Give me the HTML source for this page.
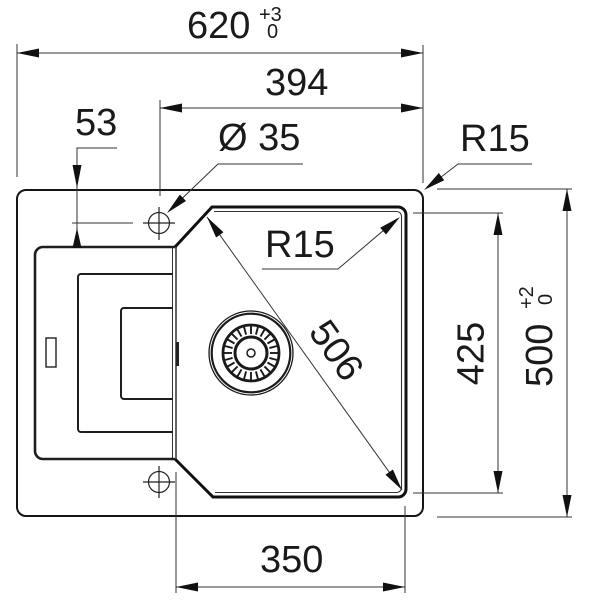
<!DOCTYPE html>
<html>
<head>
<meta charset="utf-8">
<style>
  html, body { margin:0; padding:0; background:#fff; }
  svg { display:block; }
  text { font-family: "Liberation Sans", Arial, sans-serif; fill:#1a1a1a; }
</style>
</head>
<body>
<svg width="600" height="600" viewBox="0 0 600 600" xmlns="http://www.w3.org/2000/svg">
  <rect x="0" y="0" width="600" height="600" fill="#fff"/>

  <!-- Outer sink outline -->
  <rect x="17" y="190" width="406" height="326" rx="9" ry="9" fill="none" stroke="#151515" stroke-width="2"/>

  <!-- Drainer -->
  <path d="M175,247 L43,247 A8,8 0 0 0 35,255 L35,451 A8,8 0 0 0 43,459 L175,459" fill="none" stroke="#1e1e1e" stroke-width="2.6"/>
  <line x1="172.5" y1="248" x2="172.5" y2="458" stroke="#333" stroke-width="1"/>
  <line x1="176" y1="247" x2="176" y2="459" stroke="#222" stroke-width="1.4"/>
  <path d="M173,274 L81,274 A3,3 0 0 0 78,277 L78,429 A3,3 0 0 0 81,432 L173,432" fill="none" stroke="#1e1e1e" stroke-width="2"/>
  <path d="M173,308 L124,308 A3,3 0 0 0 121,311 L121,396 A3,3 0 0 0 124,399 L173,399" fill="none" stroke="#1e1e1e" stroke-width="2"/>
  <rect x="46" y="338" width="10" height="29" fill="none" stroke="#222" stroke-width="1.4"/>
  <rect x="175.5" y="342" width="3.5" height="24" fill="#222"/>

  <!-- Bowl -->
  <path d="M175,247 L212,207 L398,207 A8,8 0 0 1 406,215 L406,489 A8,8 0 0 1 398,497 L213,497 L175,459" fill="none" stroke="#111" stroke-width="3"/>
  <path d="M214,211.5 L397,211.5 A5,5 0 0 1 401.5,216 L401.5,488 A5,5 0 0 1 397,492.5 L215,492.5" fill="none" stroke="#333" stroke-width="1.1"/>

  <!-- Holes -->
  <g fill="none" stroke="#222" stroke-width="1.2">
    <circle cx="159" cy="223" r="10.5"/>
    <line x1="143" y1="223" x2="175" y2="223"/>
    <line x1="159" y1="207" x2="159" y2="240"/>
    <circle cx="159" cy="482" r="10.5"/>
    <line x1="143" y1="482" x2="175" y2="482"/>
    <line x1="159" y1="466" x2="159" y2="498"/>
  </g>

  <!-- Strainer -->
  <g transform="translate(251,353)" fill="none" stroke="#1a1a1a">
    <circle r="42" stroke-width="1.3"/>
    <circle r="39.3" stroke-width="2.2"/>
    <circle r="28" stroke-width="2.8"/>
    <circle r="16" stroke-width="3"/>
    <circle r="4" stroke-width="1.5"/>
    <g stroke-width="1.9">
      <line x1="0" y1="-19" x2="0" y2="-27" transform="rotate(0)"/>
      <line x1="0" y1="-19" x2="0" y2="-27" transform="rotate(15)"/>
      <line x1="0" y1="-19" x2="0" y2="-27" transform="rotate(30)"/>
      <line x1="0" y1="-19" x2="0" y2="-27" transform="rotate(45)"/>
      <line x1="0" y1="-19" x2="0" y2="-27" transform="rotate(60)"/>
      <line x1="0" y1="-19" x2="0" y2="-27" transform="rotate(75)"/>
      <line x1="0" y1="-19" x2="0" y2="-27" transform="rotate(90)"/>
      <line x1="0" y1="-19" x2="0" y2="-27" transform="rotate(105)"/>
      <line x1="0" y1="-19" x2="0" y2="-27" transform="rotate(120)"/>
      <line x1="0" y1="-19" x2="0" y2="-27" transform="rotate(135)"/>
      <line x1="0" y1="-19" x2="0" y2="-27" transform="rotate(150)"/>
      <line x1="0" y1="-19" x2="0" y2="-27" transform="rotate(165)"/>
      <line x1="0" y1="-19" x2="0" y2="-27" transform="rotate(180)"/>
      <line x1="0" y1="-19" x2="0" y2="-27" transform="rotate(195)"/>
      <line x1="0" y1="-19" x2="0" y2="-27" transform="rotate(210)"/>
      <line x1="0" y1="-19" x2="0" y2="-27" transform="rotate(225)"/>
      <line x1="0" y1="-19" x2="0" y2="-27" transform="rotate(240)"/>
      <line x1="0" y1="-19" x2="0" y2="-27" transform="rotate(255)"/>
      <line x1="0" y1="-19" x2="0" y2="-27" transform="rotate(270)"/>
      <line x1="0" y1="-19" x2="0" y2="-27" transform="rotate(285)"/>
      <line x1="0" y1="-19" x2="0" y2="-27" transform="rotate(300)"/>
      <line x1="0" y1="-19" x2="0" y2="-27" transform="rotate(315)"/>
      <line x1="0" y1="-19" x2="0" y2="-27" transform="rotate(330)"/>
      <line x1="0" y1="-19" x2="0" y2="-27" transform="rotate(345)"/>
    </g>
  </g>

  <!-- Dimension lines -->
  <g fill="none" stroke="#333" stroke-width="1">
    <line x1="17" y1="53" x2="423" y2="53"/>
    <line x1="17" y1="44" x2="17" y2="177"/>
    <line x1="423" y1="45" x2="423" y2="183"/>
    <line x1="160" y1="108" x2="423" y2="108"/>
    <line x1="160" y1="100" x2="160" y2="196"/>
    <polyline points="303,164 218,164 170,210"/>
    <polyline points="117,148 77,148 77,248"/>
    <line x1="72" y1="223" x2="133" y2="223"/>
    <polyline points="532,164 458,164 427,188"/>
    <polyline points="262,269 338,269 397,219"/>
    <line x1="207" y1="217" x2="402" y2="490"/>
    <line x1="176" y1="472" x2="176" y2="593"/>
    <line x1="405" y1="506" x2="405" y2="593"/>
    <line x1="176" y1="587" x2="405" y2="587"/>
    <line x1="413" y1="213" x2="503" y2="213"/>
    <line x1="413" y1="493" x2="503" y2="493"/>
    <line x1="498" y1="213" x2="498" y2="493"/>
    <line x1="437" y1="189" x2="572" y2="189"/>
    <line x1="437" y1="517" x2="572" y2="517"/>
    <line x1="567" y1="189" x2="567" y2="517"/>
  </g>

  <!-- Arrowheads -->
  <g fill="#111" stroke="none">
    <polygon points="17,53 39,48.5 39,57.5"/>
    <polygon points="423,53 401,48.5 401,57.5"/>
    <polygon points="160,108 182,103.5 182,112.5"/>
    <polygon points="423,108 401,103.5 401,112.5"/>
    <polygon points="176,587 198,582.5 198,591.5"/>
    <polygon points="405,587 383,582.5 383,591.5"/>
    <polygon points="498,213 493.5,235 502.5,235"/>
    <polygon points="498,493 493.5,471 502.5,471"/>
    <polygon points="567,189 562.5,211 571.5,211"/>
    <polygon points="567,517 562.5,495 571.5,495"/>
    <polygon points="77,188 72.5,165 81.5,165"/>
    <polygon points="77,228 72.5,248 81.5,248"/>
    <polygon points="167,213 179.8,194.6 186,201"/>
    <polygon points="424,190 438.8,173 444.2,180.2"/>
    <polygon points="400,217 386,234.5 380.2,227.7"/>
    <polygon points="402,490 385.5,474.7 392.9,469.5"/>
    <polygon points="207,217 223.5,232.3 216.1,237.5"/>
  </g>

  <!-- Labels -->
  <text x="187" y="38" font-size="38">620</text>
  <text x="259" y="21" font-size="20">+3</text>
  <text x="267" y="38" font-size="20">0</text>

  <text x="265" y="95" font-size="38">394</text>
  <text x="218" y="150" font-size="38">Ø 35</text>
  <text x="75" y="135" font-size="38">53</text>
  <text x="460" y="151" font-size="38">R15</text>
  <text x="265" y="257" font-size="38">R15</text>
  <text x="260" y="572" font-size="38">350</text>

  <text x="0" y="13.5" font-size="38" text-anchor="middle" transform="translate(470,353.5) rotate(-90)">425</text>

  <g transform="translate(552,387) rotate(-90)">
    <text x="0" y="0" font-size="38">500</text>
    <text x="78" y="-19" font-size="20">+2</text>
    <text x="82" y="0" font-size="20">0</text>
  </g>

  <text x="0" y="13.5" font-size="38" text-anchor="middle" transform="translate(337,350) rotate(54.5)">506</text>
</svg>
</body>
</html>
